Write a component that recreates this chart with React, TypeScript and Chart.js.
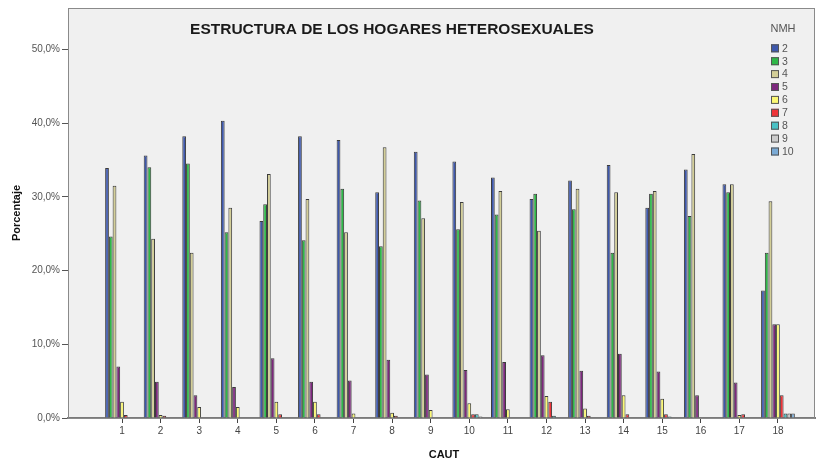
import React, { useEffect, useRef } from 'react';
import { Chart, registerables } from 'chart.js';

Chart.register(...registerables);

const categories = ['1', '2', '3', '4', '5', '6', '7', '8', '9', '10', '11', '12', '13', '14', '15', '16', '17', '18'];
const seriesNames = ['2', '3', '4', '5', '6', '7', '8', '9', '10'];

const nmh2 = [33.9, 35.6, 38.2, 40.3, 26.7, 38.2, 37.7, 30.6, 36.1, 34.8, 32.6, 29.7, 32.2, 34.3, 28.5, 33.7, 31.7, 17.3];
const nmh3 = [24.6, 34.0, 34.5, 25.2, 29.0, 24.1, 31.1, 23.3, 29.5, 25.6, 27.6, 30.4, 28.3, 22.4, 30.4, 27.4, 30.6, 22.4];
const nmh4 = [31.5, 24.3, 22.4, 28.5, 33.1, 29.7, 25.2, 36.7, 27.1, 29.3, 30.8, 25.4, 31.1, 30.6, 30.8, 35.8, 31.7, 29.4];
const nmh5 = [7.0, 4.9, 3.1, 4.2, 8.1, 4.9, 5.1, 7.9, 5.9, 6.5, 7.6, 8.5, 6.4, 8.7, 6.3, 3.1, 4.8, 12.7];
const nmh6 = [2.2, 0.4, 1.5, 1.5, 2.2, 2.2, 0.6, 0.7, 1.1, 2.0, 1.2, 3.0, 1.3, 3.1, 2.6, 0, 0.4, 12.7];
const nmh7 = [0.4, 0.3, 0, 0, 0.5, 0.5, 0, 0.3, 0, 0.5, 0, 2.2, 0.3, 0.5, 0.5, 0, 0.5, 3.1];
const nmh8 = [0, 0, 0, 0, 0, 0, 0, 0, 0, 0.5, 0, 0.3, 0, 0, 0.2, 0, 0, 0.6];
const nmh9 = [0, 0, 0, 0, 0, 0, 0, 0, 0, 0.2, 0, 0, 0, 0, 0, 0, 0, 0.6];
const nmh10 = [0, 0, 0, 0, 0, 0, 0, 0, 0, 0, 0, 0, 0, 0, 0, 0, 0, 0.6];

const seriesValues = [nmh2, nmh3, nmh4, nmh5, nmh6, nmh7, nmh8, nmh9, nmh10];
const seriesColors = ['#3E58AC', '#2EB848', '#D3CE97', '#7C287D', '#FBF873', '#EF3338', '#48C2C5', '#CCCCCC', '#7AAAD5'];

const yTicks = [0, 10, 20, 30, 40, 50];
const chartTitle = 'ESTRUCTURA DE LOS HOGARES HETEROSEXUALES';
const legendTitle = 'NMH';
const xTitle = 'CAUT';
const yTitle = 'Porcentaje';

const FONT = "'Liberation Sans', Arial, sans-serif";

const decorPlugin = {
  id: 'decor',
  beforeDraw(chart: any) {
    const { ctx, chartArea: a, width, height } = chart;
    ctx.save();
    ctx.fillStyle = '#ffffff';
    ctx.fillRect(0, 0, width, height);
    ctx.fillStyle = '#F0F0F0';
    ctx.fillRect(a.left, a.top, a.right - a.left, a.bottom - a.top);
    ctx.restore();
  },
  afterDraw(chart: any) {
    const { ctx, chartArea: a } = chart;
    ctx.save();
    // frame
    ctx.strokeStyle = '#8a8a8a';
    ctx.lineWidth = 1;
    ctx.strokeRect(a.left + 0.5, a.top + 0.5, a.right - a.left - 1, a.bottom - a.top);
    // title
    ctx.fillStyle = '#1a1a1a';
    ctx.font = `bold 15.5px ${FONT}`;
    ctx.textAlign = 'center';
    ctx.textBaseline = 'middle';
    ctx.fillText(chartTitle, 392, 30);
    // x axis title
    ctx.font = `bold 11px ${FONT}`;
    ctx.fillStyle = '#111';
    ctx.fillText(xTitle, 444, 455);
    // legend
    ctx.font = `11px ${FONT}`;
    ctx.fillStyle = '#555';
    ctx.fillText(legendTitle, 783, 29);
    ctx.textAlign = 'left';
    ctx.font = `10.5px ${FONT}`;
    chart.data.datasets.forEach((ds: any, i: number) => {
      const cy = 48.3 + i * 12.9;
      ctx.fillStyle = ds.backgroundColor;
      ctx.fillRect(771, cy - 4, 8, 8);
      ctx.strokeStyle = '#555';
      ctx.lineWidth = 1;
      ctx.strokeRect(771.5, cy - 3.5, 7, 7);
      ctx.fillStyle = '#555';
      ctx.fillText(ds.label, 782, cy + 0.5);
    });
    ctx.restore();
  },
};

export default function App() {
  const ref = useRef<HTMLCanvasElement>(null);
  useEffect(() => {
    if (!ref.current) return;
    const chart = new Chart(ref.current, {
      type: 'bar',
      data: {
        datasets: seriesValues.map((vals, si) => ({
          label: seriesNames[si],
          data: vals.map((v, i) => ({ x: i + 1, y: v })),
          backgroundColor: seriesColors[si],
          borderColor: 'rgba(40,40,40,0.9)',
          borderWidth: 1,
          categoryPercentage: 0.875,
          barPercentage: 1,
        })),
      },
      options: {
        animation: false,
        responsive: false,
        maintainAspectRatio: false,
        layout: { padding: { top: 8, right: 12, left: 0, bottom: 0 } },
        plugins: {
          legend: { display: false },
          title: { display: false },
          tooltip: { enabled: false },
        },
        scales: {
          x: {
            type: 'linear',
            min: -0.4,
            max: 18.96,
            offset: false,
            afterFit: (s: any) => { s.height = 46; },
            afterBuildTicks: (s: any) => { s.ticks = categories.map((_, i) => ({ value: i + 1 })); },
            grid: { display: true, offset: false, drawOnChartArea: false, drawTicks: true, tickLength: 5, color: '#444', lineWidth: 1 },
            border: { display: true, color: '#7a7a7a', width: 2 },
            ticks: {
              autoSkip: false,
              maxRotation: 0,
              padding: 2,
              color: '#444',
              font: { family: FONT, size: 10 },
              callback: (v: any) => categories[Number(v) - 1] ?? '',
            },
            title: { display: false },
          },
          y: {
            min: 0,
            max: 55.6,
            afterFit: (s: any) => { s.width = 68; },
            afterBuildTicks: (s: any) => { s.ticks = yTicks.map((v) => ({ value: v })); },
            grid: { display: true, drawOnChartArea: false, drawTicks: true, tickLength: 6, color: '#555', lineWidth: 1 },
            border: { display: true, color: '#8a8a8a', width: 1 },
            ticks: {
              padding: 2,
              color: '#555',
              font: { family: FONT, size: 10 },
              callback: (v: any) => Number(v).toFixed(1).replace('.', ',') + '%',
            },
            title: { display: true, text: yTitle, color: '#111', font: { family: FONT, size: 11, weight: 'bold' }, padding: { top: 10, bottom: 0 } },
          },
        },
      } as any,
      plugins: [decorPlugin],
    });
    return () => chart.destroy();
  }, []);
  return (
    <div style={{ position: 'absolute', left: 0, top: 0, width: 827, height: 464 }}>
      <canvas ref={ref} width={827} height={464} style={{ display: 'block' }} />
    </div>
  );
}
